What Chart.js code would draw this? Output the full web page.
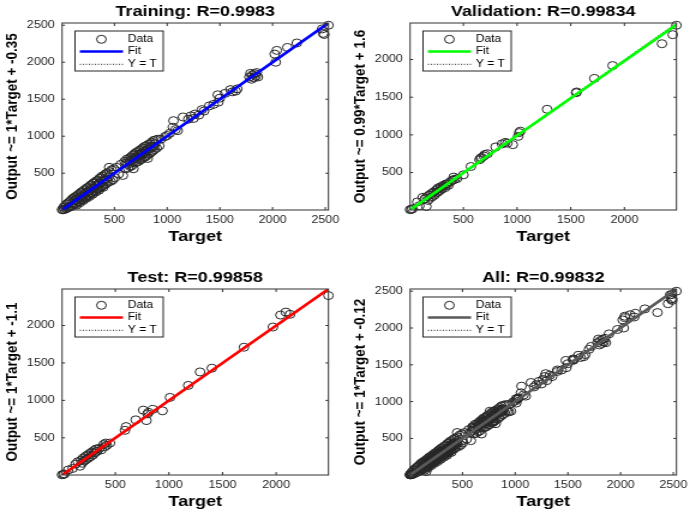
<!DOCTYPE html>
<html>
<head>
<meta charset="utf-8">
<script src="https://cdn.jsdelivr.net/npm/chart.js@4.4.1/dist/chart.umd.min.js"></script>
<style>
  html, body { margin: 0; padding: 0; background: #fff; }
  #fig { position: relative; width: 696px; height: 514px; overflow: hidden; }
  .panel { position: absolute; width: 290px; height: 257px; transform: scaleX(1.2); transform-origin: 0 0; }
</style>
</head>
<body>
<div id="fig">
  <div class="panel" style="left:0;top:0"><canvas id="c0" width="290" height="257"></canvas></div>
  <div class="panel" style="left:348px;top:0"><canvas id="c1" width="290" height="257"></canvas></div>
  <div class="panel" style="left:0;top:257px"><canvas id="c2" width="290" height="257"></canvas></div>
  <div class="panel" style="left:348px;top:257px"><canvas id="c3" width="290" height="257"></canvas></div>
</div>
<script>
// values (target vs network output)
const trainTarget = [3,12,18,25,32,40,48,55,62,70,78,85,92,100,106,112,118,124,130,136,142,148,154,160,166,172,178,184,190,196,202,208,214,220,226,232,238,244,250,256,262,268,274,280,286,292,298,304,310,316,322,328,334,340,346,352,358,364,370,376,382,388,394,400,408,416,424,432,440,450,456,464,474,484,494,504,520,540,560,580,596,606,618,628,638,648,656,664,672,680,688,696,704,712,720,728,736,744,752,760,768,776,784,792,800,808,815,822,830,838,846,854,862,870,880,890,900,912,925,940,980,1000,1025,1055,1060,1080,1100,1150,1200,1225,1250,1265,1300,1330,1350,1400,1440,1480,1485,1500,1550,1600,1620,1650,1665,1780,1790,1800,1810,1820,1830,1840,1850,1860,2020,2030,2040,2140,2230,2470,2480,2490,2530,
    610,625,645,660,675,690,705,715,730,745,755,770,785,795,810,825,840,855,870,885,
    105,125,145,165,185,205,225,245,265,285,305,325,345,365,385,405,425,445];
const trainOutput = [8,5,40,10,60,20,85,30,100,40,120,50,140,60,160,75,170,80,185,90,70,200,110,215,120,100,235,140,250,150,130,265,165,280,180,160,300,195,310,205,185,330,225,345,235,215,365,255,375,265,245,395,280,405,290,270,430,300,440,320,460,330,310,470,350,490,360,505,380,580,520,390,545,410,560,440,580,490,620,470,660,560,690,570,700,590,720,600,740,560,760,640,780,650,790,660,810,680,820,690,840,710,860,720,870,740,700,890,760,900,780,920,800,940,820,950,840,960,870,960,995,1010,1040,1120,1210,1090,1075,1260,1230,1275,1240,1300,1285,1360,1340,1410,1430,1560,1460,1515,1580,1630,1600,1610,1640,1800,1850,1770,1830,1790,1845,1810,1860,1800,2110,2000,2160,2200,2260,2450,2390,2375,2500,
    640,620,660,680,650,700,720,700,750,740,770,760,800,790,820,830,850,860,860,900,
    100,140,150,170,190,200,230,250,260,290,300,330,350,360,390,410,420,450];

const valTarget = [3,15,25,70,90,120,155,140,160,170,180,190,200,210,220,230,240,250,255,260,270,280,290,300,310,320,330,340,350,360,380,400,410,420,440,500,570,650,660,670,690,700,725,800,860,890,910,960,1010,1020,1030,1280,1550,1555,1720,1890,2350,2450,2485];
const valOutput = [8,10,20,110,60,170,50,150,180,130,200,160,220,180,240,200,260,230,280,240,300,260,310,280,330,320,300,350,350,330,380,400,440,410,420,470,580,670,690,700,720,740,750,840,880,900,890,870,980,1030,1050,1340,1560,1570,1750,1920,2210,2330,2455];

const testTarget = [3,15,25,60,100,130,150,170,180,190,200,210,220,230,240,250,260,270,280,290,300,310,320,330,350,370,390,400,410,420,450,590,600,690,760,790,800,810,850,940,1010,1180,1290,1400,1700,1970,2040,2090,2130,2488];
const testOutput = [6,10,18,70,90,150,180,120,200,160,230,190,250,210,270,230,290,250,310,270,330,300,350,320,360,340,410,380,430,400,430,600,650,740,870,730,820,840,880,860,1040,1200,1380,1430,1710,1980,2140,2180,2150,2400];

// "All" is the union of the three subsets
const allTarget = trainTarget.concat(valTarget, testTarget);
const allOutput = trainOutput.concat(valOutput, testOutput);

const panelNames = ['Training', 'Validation', 'Test', 'All'];
const rValues = ['0.9983', '0.99834', '0.99858', '0.99832'];
const fitSlope = [1, 0.99, 1, 1];
const fitIntercept = [-0.35, 1.6, -1.1, -0.12];
const fitColors = ['#0000ff', '#00ff00', '#ff0000', '#595959'];
const ticksWide = [500, 1000, 1500, 2000, 2500];
const ticksNarrow = [500, 1000, 1500, 2000];

const FONT = '"Liberation Sans", Arial, Helvetica, sans-serif';

// MATLAB style box with inward ticks on all sides plus the in-axes legend
const matlabAxes = {
    id: 'matlabAxes',
    afterDraw(chart, args, opts) {
        const { ctx, chartArea: a, scales } = chart;
        const sx = scales.x, sy = scales.y;
        ctx.save();
        ctx.strokeStyle = '#303030';
        ctx.lineWidth = 1;
        ctx.strokeRect(a.left, a.top, a.right - a.left, a.bottom - a.top);
        ctx.beginPath();
        sx.ticks.forEach((t) => {
            const px = sx.getPixelForValue(t.value);
            ctx.moveTo(px, a.bottom); ctx.lineTo(px, a.bottom - 3);
            ctx.moveTo(px, a.top); ctx.lineTo(px, a.top + 3);
        });
        sy.ticks.forEach((t) => {
            const py = sy.getPixelForValue(t.value);
            ctx.moveTo(a.left, py); ctx.lineTo(a.left + 2.5, py);
            ctx.moveTo(a.right, py); ctx.lineTo(a.right - 2.5, py);
        });
        ctx.stroke();

        // legend
        const lx = a.left + 10.8, ly = a.top + 8, lw = 73.5, lh = 40;
        ctx.fillStyle = '#fff';
        ctx.fillRect(lx, ly, lw, lh);
        ctx.strokeStyle = '#262626';
        ctx.strokeRect(lx, ly, lw, lh);
        const rows = [ly + 8.3, ly + 20.5, ly + 33.3];

        ctx.beginPath();
        ctx.strokeStyle = '#222';
        ctx.lineWidth = 1;
        ctx.arc(lx + 22, rows[0], 4, 0, Math.PI * 2);
        ctx.stroke();

        ctx.beginPath();
        ctx.strokeStyle = opts.fitColor;
        ctx.lineWidth = 2.4;
        ctx.moveTo(lx + 4, rows[1]); ctx.lineTo(lx + 40, rows[1]);
        ctx.stroke();

        ctx.beginPath();
        ctx.strokeStyle = '#222';
        ctx.lineWidth = 1;
        ctx.setLineDash([1, 1.5]);
        ctx.moveTo(lx + 4, rows[2]); ctx.lineTo(lx + 40, rows[2]);
        ctx.stroke();
        ctx.setLineDash([]);

        ctx.fillStyle = '#000';
        ctx.font = '10px ' + FONT;
        ctx.textBaseline = 'middle';
        ctx.textAlign = 'left';
        ctx.fillText('Data', lx + 44, rows[0]);
        ctx.fillText('Fit', lx + 44, rows[1]);
        ctx.fillText('Y = T', lx + 44, rows[2]);
        ctx.restore();
    },
};

function makePanel(canvasId, idx, target, output, ticks, bottomRow) {
    const points = target.map((t, i) => ({ x: t, y: output[i] }));
    const lo = Math.min(...target, ...output);
    const hi = Math.max(...target, ...output);
    const fitLine = [lo, hi].map((v) => ({ x: v, y: fitSlope[idx] * v + fitIntercept[idx] }));
    const diagLine = [lo, hi].map((v) => ({ x: v, y: v }));

    const yLabel = 'Output ~= ' + fitSlope[idx] + '*Target + ' + fitIntercept[idx];

    const tickFont = { family: FONT, size: 10.5 };
    const setTicks = (scale) => { scale.ticks = ticks.map((v) => ({ value: v })); };

    new Chart(document.getElementById(canvasId), {
        type: 'scatter',
        data: {
            datasets: [
                {
                    label: 'Fit',
                    data: fitLine,
                    showLine: true,
                    borderColor: fitColors[idx],
                    borderWidth: 2.7,
                    pointRadius: 0,
                },
                {
                    label: 'Y = T',
                    data: diagLine,
                    showLine: true,
                    borderColor: '#1a1a1a',
                    borderWidth: 1,
                    borderDash: [1, 1.5],
                    pointRadius: 0,
                },
                {
                    label: 'Data',
                    data: points,
                    pointStyle: 'circle',
                    pointRadius: 4,
                    pointBorderWidth: 1,
                    borderColor: '#262626',
                    backgroundColor: 'rgba(0,0,0,0)',
                    clip: false,
                },
            ],
        },
        options: {
            responsive: false,
            animation: false,
            events: [],
            layout: { padding: { left: 0, right: 16.3, top: 0, bottom: 0 } },
            plugins: {
                legend: { display: false },
                tooltip: { enabled: false },
                title: {
                    display: true,
                    fullSize: false,
                    text: panelNames[idx] + ': R=' + rValues[idx],
                    color: '#000',
                    font: { family: FONT, size: 15, weight: 'bold', lineHeight: 1.2 },
                    padding: bottomRow ? { top: 11.5, bottom: 2.5 } : { top: 3, bottom: 2 },
                },
                matlabAxes: { fitColor: fitColors[idx] },
            },
            scales: {
                x: {
                    type: 'linear',
                    min: lo,
                    max: hi,
                    afterBuildTicks: setTicks,
                    afterFit: (scale) => { scale.height = bottomRow ? 39 : 47; },
                    grid: { display: false, drawTicks: false },
                    border: { display: false },
                    ticks: {
                        autoSkip: false,
                        maxRotation: 0,
                        padding: 4,
                        color: '#262626',
                        font: tickFont,
                        callback: (v) => String(v),
                    },
                    title: {
                        display: true,
                        text: 'Target',
                        color: '#000',
                        font: { family: FONT, size: 15, weight: 'bold', lineHeight: 1.2 },
                        padding: { top: 0, bottom: bottomRow ? 3 : 11.3 },
                    },
                },
                y: {
                    type: 'linear',
                    min: lo,
                    max: hi,
                    afterBuildTicks: setTicks,
                    afterFit: (scale) => { scale.width = 51.7; },
                    grid: { display: false, drawTicks: false },
                    border: { display: false },
                    ticks: {
                        autoSkip: false,
                        padding: 6,
                        color: '#262626',
                        font: tickFont,
                        callback: (v) => String(v),
                    },
                    title: {
                        display: true,
                        text: yLabel,
                        color: '#000',
                        font: { family: FONT, size: 13.5, weight: 'bold', lineHeight: 1.2 },
                        padding: { top: 2.3, bottom: 0 },
                    },
                },
            },
        },
        plugins: [matlabAxes],
    });
}

makePanel('c0', 0, trainTarget, trainOutput, ticksWide, false);
makePanel('c1', 1, valTarget, valOutput, ticksNarrow, false);
makePanel('c2', 2, testTarget, testOutput, ticksNarrow, true);
makePanel('c3', 3, allTarget, allOutput, ticksWide, true);
</script>
</body>
</html>
